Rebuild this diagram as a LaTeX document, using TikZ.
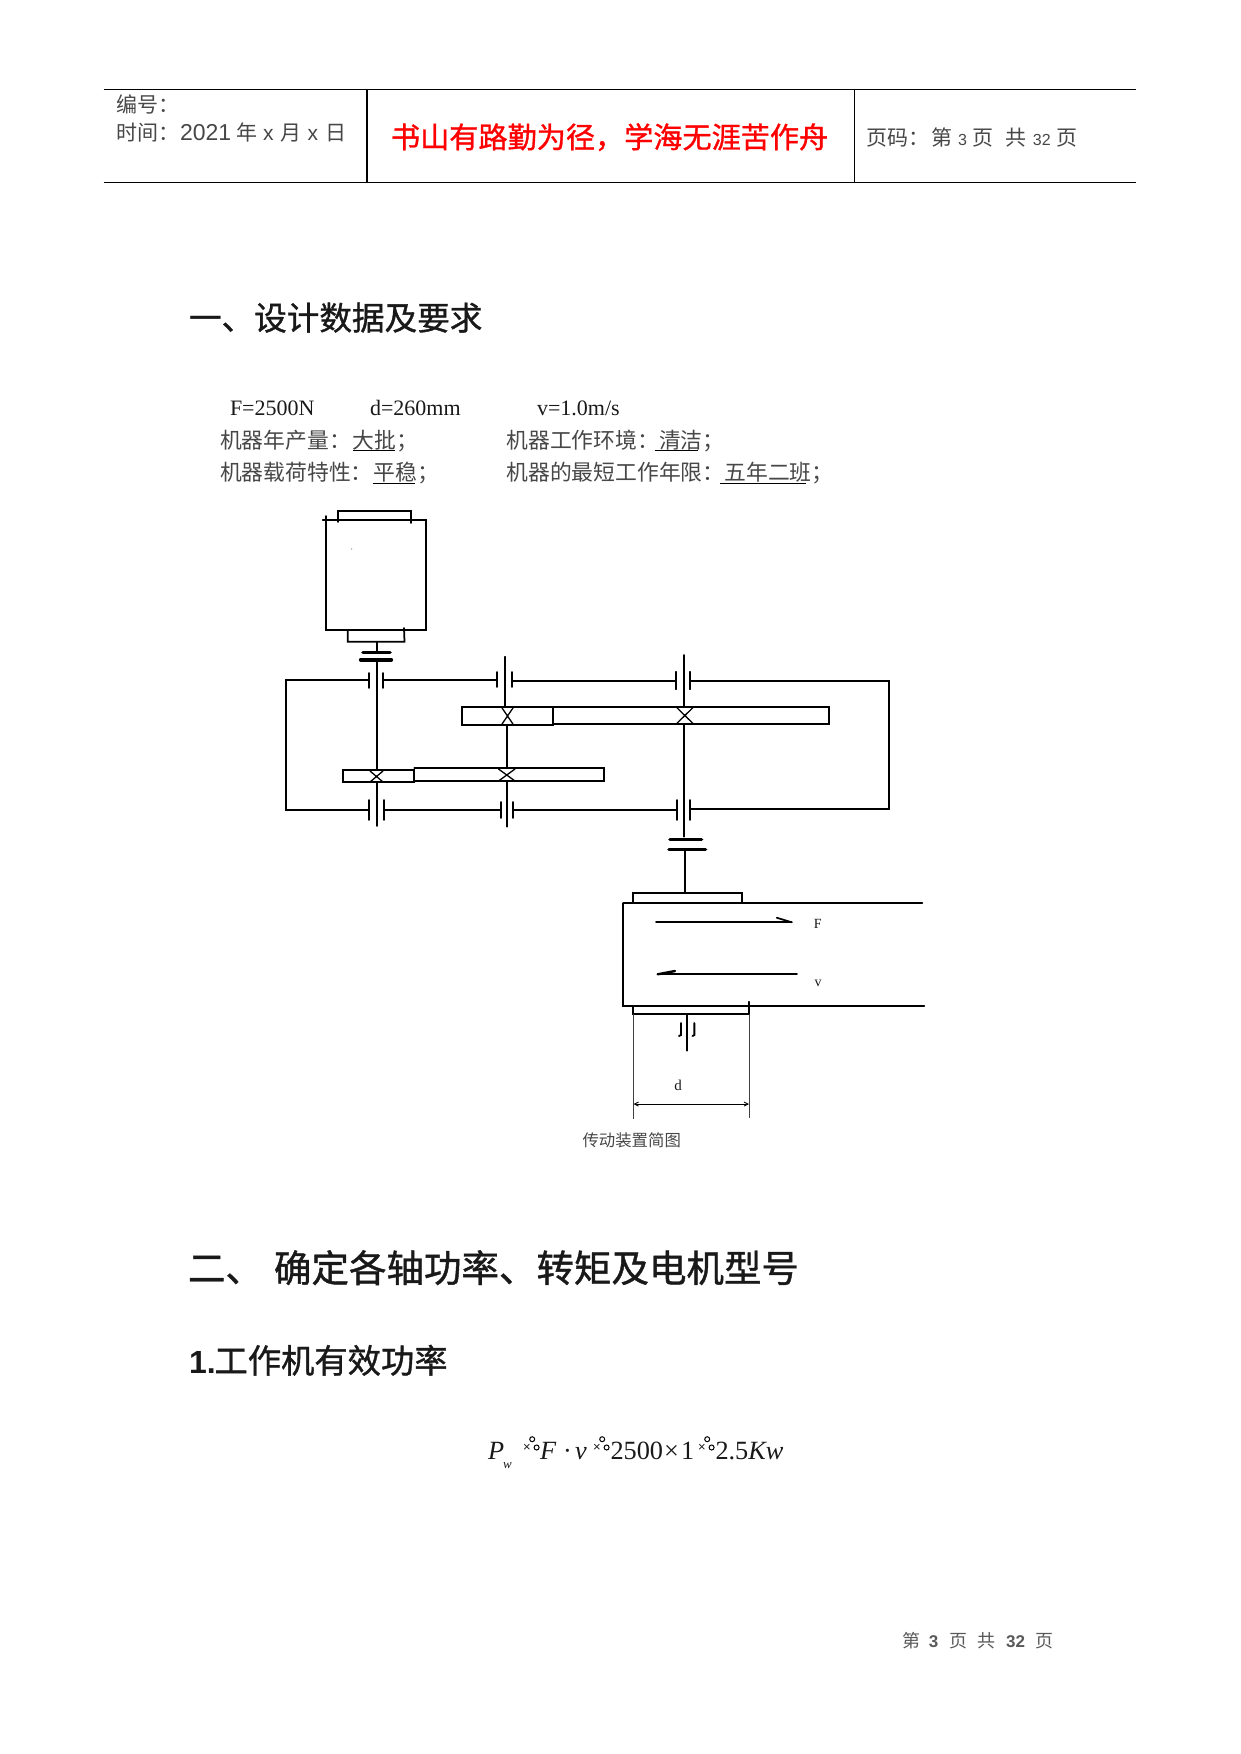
\documentclass[tikz,border=0pt]{standalone}
\usepackage{fontspec}
\usetikzlibrary{arrows.meta}
\setmainfont{Liberation Serif}
\newfontfamily\cjk{Noto Sans CJK SC}
\newfontfamily\cjkb[FakeBold=1.1]{Noto Sans CJK SC}
\newfontfamily\arial{Liberation Sans}
\newcommand{\fsz}[1]{\fontsize{#1}{#1}\selectfont}
\definecolor{ink}{gray}{0.1}
\definecolor{soft}{gray}{0.28}
\definecolor{foot}{gray}{0.35}
\tikzset{
  txt/.style={inner sep=0pt,outer sep=0pt,anchor=base west,text=ink},
  ctr/.style={inner sep=0pt,outer sep=0pt,anchor=base,text=ink},
  hd/.style={txt,font=\cjkb\fsz{#1}},
  body/.style={txt,font=\cjk\fsz{21.8},text=soft},
  par/.style={txt,font=\fsz{22}},
  dia/.style={txt,font=\cjk\fsz{21},text=soft},
  foottxt/.style={ctr,font=\cjk\fsz{18},text=foot},
  mth/.style={txt,font=\fsz{26.3}},
  glitch/.style={ctr,font=\arial\fsz{13}},
  rule/.style={line width=1pt,black},
  ln/.style={line width=1.75pt,black,line cap=round,line join=miter},
  thick bar/.style={line width=3.6pt,black,line cap=round},
  thin/.style={line width=0.8pt,black!75},
}
\newcommand{\xgear}[4]{\draw[ln,line width=1.3pt] (#1,#3) -- (#2,#4) (#1,#4) -- (#2,#3);}
\newcommand{\glitchmark}[2]{%
  \node[glitch] at (#1,#2) {×};
  \draw[line width=1pt] (#1+5.2,#2-11.8) circle (2.5);
  \draw[line width=1pt] (#1+9.6,#2-3.5) circle (2.5);
}
\begin{document}
\begin{tikzpicture}[x=1pt,y=-1pt]
\useasboundingbox (0,0) rectangle (1241,1754);
% header table
\draw[rule] (103.5,89.5) -- (1136,89.5);
\draw[rule] (103.5,182.8) -- (1136,182.8);
\draw[line width=1.5pt] (366.8,89.5) -- (366.8,182.8);
\draw[line width=1pt] (854,89.5) -- (854,182.8);
\node[dia] (num) at (116,112) {编号：};
\node[dia] (time) at (116,140) {时间：\hspace{1pt}{\arial\fsz{23}2021}\hspace{5pt}年\hspace{6pt}{\arial\fsz{21}x}\hspace{7pt}月\hspace{6pt}{\arial\fsz{21}x}\hspace{7pt}日};
\node[txt,font=\cjkb\fsz{29.15},text=red] (motto) at (391,148) {书山有路勤为径，学海无涯苦作舟};
\node[dia] (pg) at (866,145) {页码：\hspace{2pt}第\hspace{6pt}{\arial\fsz{16}3}\hspace{6pt}页\hspace{12pt}共\hspace{6pt}{\arial\fsz{16}32}\hspace{6pt}页};
% headings
\node[hd=32.6] (h1) at (189,330) {一、设计数据及要求};
\node[hd=37.5] (h2a) at (188,1282) {二、};
\node[hd=37.5] (h2b) at (274,1282) {确定各轴功率、转矩及电机型号};
\node[txt,font=\arial\bfseries\fsz{32}] (h3a) at (189,1373) {1.};
\node[hd=33.3] (h3b) at (214.5,1373) {工作机有效功率};
% parameters
\node[par] (pf) at (230,415) {F=2500N};
\node[par] (pd) at (370,415) {d=260mm};
\node[par] (pv) at (537,415) {v=1.0m/s};
\node[body] (l1a) at (220,448) {机器年产量：\hspace{2pt}大批；};
\node[body] (l1b) at (506.5,448) {机器工作环境：清洁；};
\node[body] (l2a) at (220,480) {机器载荷特性：\hspace{1pt}平稳；};
\node[body] (l2b) at (506.5,480) {机器的最短工作年限：五年二班；};
\draw[line width=1pt] (353,450.5) -- (395,450.5) (654.5,450.5) -- (698,450.5);
\draw[line width=1pt] (372.7,483) -- (415,483) (720,483) -- (806,483);
% motor
\draw[ln] (322.7,520) -- (425.7,520) -- (425.7,630) -- (326,630) -- (326,516);
\draw[ln] (337.7,522) -- (337.7,511) -- (411,511) -- (411,523);
\draw[ln] (347.7,630) -- (347.7,641.7) -- (404.5,641.7) -- (404,628);
\draw[ln] (376.7,641.7) -- (376.7,652);
\fill[black!50] (351.7,549) circle (0.7);
% coupling 1
\draw[thick bar] (363,652.3) -- (390,652.3);
\draw[thick bar,line width=4.4pt] (361,659.7) -- (391,659.7);
% shaft 1
\draw[ln] (376.7,660) -- (376.7,770);
\draw[ln] (376.7,782.3) -- (376.7,826);
% shaft 2
\draw[ln] (505,656.7) -- (505,706.7);
\draw[ln] (506.7,725) -- (506.7,768.3);
\draw[ln] (506.7,781) -- (506.7,826.7);
% shaft 3
\draw[ln] (684.3,655) -- (684.3,706.7);
\draw[ln] (684.3,724) -- (684.3,836.7);
% bearings upper
\draw[ln] (369.3,673) -- (369.3,688) (383.3,673) -- (383.3,688);
\draw[ln] (496.7,672) -- (496.7,687) (512.3,672) -- (512.3,687);
\draw[ln] (676,671.7) -- (676,689.3) (690,671.7) -- (690,689.3);
% bearings lower
\draw[ln] (368.7,800) -- (368.7,820) (384,800) -- (384,820);
\draw[ln] (500.7,802) -- (500.7,818) (513.3,802) -- (513.3,818);
\draw[ln] (676.7,800) -- (676.7,820) (690,800) -- (690,820);
% housing
\draw[ln] (369.3,680) -- (285.7,680) -- (285.7,810) -- (369,810);
\draw[ln] (383.3,680) -- (496.7,680);
\draw[ln] (512.3,681) -- (676,681);
\draw[ln] (690,680.7) -- (889.3,680.7) -- (889.3,809.3) -- (690,809.3);
\draw[ln] (384,810) -- (500.7,810);
\draw[ln] (513.3,810) -- (676.7,810);
% gears upper
\draw[ln] (461.7,706.7) -- (461.7,725) -- (552.7,725) -- (552.7,706.7);
\draw[ln] (461.7,706.7) -- (829,706.7) -- (829,724) -- (552.7,724);
\xgear{501.7}{513.3}{707.5}{724.5}
\xgear{676.7}{693}{707.5}{723.5}
% gears lower
\draw[ln] (342.7,770) -- (414.3,770) -- (414.3,782.3) -- (342.7,782.3) -- cycle;
\draw[ln] (414.3,768.3) -- (604,768.3) -- (604,781) -- (414.3,781);
\xgear{370}{383}{771}{782}
\xgear{498.5}{515}{769}{781}
% coupling 2
\draw[thick bar] (670,839.3) -- (701.5,839.3);
\draw[thick bar] (669,849.3) -- (705.5,849.3);
\draw[ln] (685.3,849.3) -- (685.3,892.7);
% conveyor
\draw[ln] (632.7,903.3) -- (632.7,892.7) -- (742,892.7) -- (742,903.3);
\draw[ln] (623.3,903.3) -- (922.3,903.3);
\draw[ln] (623.3,903.3) -- (623.3,1005.7) -- (924.3,1005.7);
\draw[ln] (632.7,1005.7) -- (632.7,1014.3) -- (748.7,1014.3) -- (748.7,1001.7);
\draw[ln,line width=2pt] (687.3,1014.3) -- (687.3,1050.7);
\draw[ln,line width=1.9pt] (681,1023) -- (681,1035) -- (679,1036) (694.3,1023) -- (694.3,1035) -- (692.5,1036);
% force and speed arrows
\draw[ln] (656,922.3) -- (791.7,922.3);
\draw[ln] (776.7,917.7) -- (791.7,922.3);
\draw[ln] (657.7,974.3) -- (797,974.3);
\draw[ln,line width=2.4pt] (657.7,974.3) -- (675,971);
\node[ctr,font=\fsz{14}] (lf) at (817.7,928) {F};
\node[ctr,font=\fsz{14}] (lv) at (818,986) {v};
% dimension
\draw[thin] (633.3,1014.3) -- (633.3,1119.3);
\draw[thin] (749,1014.3) -- (749,1118.3);
\draw[line width=0.9pt,black,{Straight Barb[length=4pt,width=4pt]}-{Straight Barb[length=4pt,width=4pt]}] (633.5,1104) -- (749,1104);
\node[ctr,font=\fsz{15}] (ld) at (678,1090) {d};
\node[txt,font=\cjk\fsz{16.4},text=soft] (cap) at (582.5,1146) {传动装置简图};
% formula
\node[mth] (mp) at (488,1459) {\textit{P}};
\node[txt,font=\fsz{13}\itshape] (mw) at (503,1468) {w};
\glitchmark{527}{1451}
\node[mth] (mf) at (540,1459) {\textit{F}};
\node[mth] (md) at (563,1459) {·};
\node[mth] (mv) at (575,1459) {\textit{v}};
\glitchmark{597}{1451}
\node[mth] (mn) at (610.5,1459) {2500};
\node[mth] (mx) at (664,1459) {×};
\node[mth] (mo) at (681,1459) {1};
\glitchmark{702}{1451}
\node[mth] (mr) at (715.5,1459) {2.5\textit{Kw}};
% footer
\node[foottxt] (f1) at (911.5,1647) {第};
\node[foottxt,font=\arial\bfseries\fsz{17}] (f2) at (933.5,1647) {3};
\node[foottxt] (f3) at (958.5,1647) {页};
\node[foottxt] (f4) at (986.5,1647) {共};
\node[foottxt,font=\arial\bfseries\fsz{17}] (f5) at (1015.5,1647) {32};
\node[foottxt] (f6) at (1044.5,1647) {页};
\end{tikzpicture}
\end{document}
